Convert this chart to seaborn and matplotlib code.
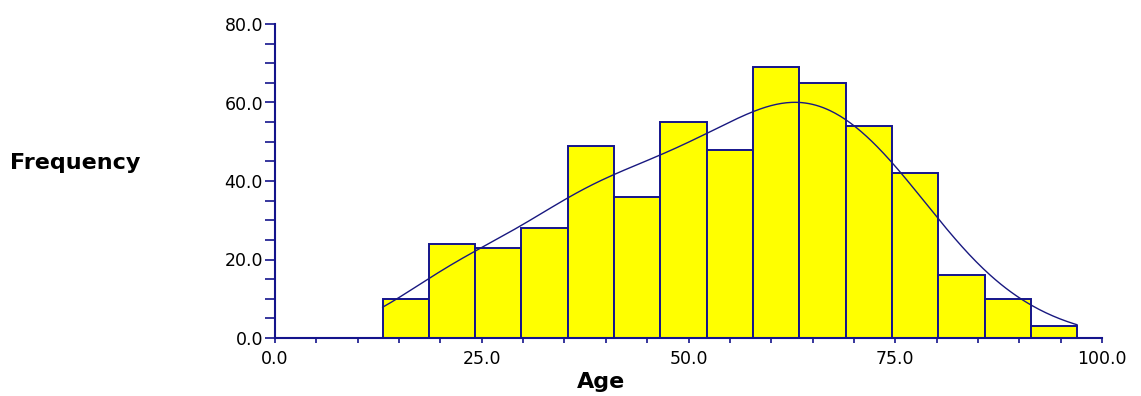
import matplotlib
matplotlib.use("Agg")
import matplotlib.pyplot as plt
from matplotlib.ticker import FixedLocator, MultipleLocator, FormatStrFormatter
import pandas as pd
import seaborn as sns

# Age histogram: 15 equal-width bins from 13 to 97
bin_edges = [13.0, 18.6, 24.2, 29.8, 35.4, 41.0, 46.6, 52.2, 57.8,
             63.4, 69.0, 74.6, 80.2, 85.8, 91.4, 97.0]
counts = [10, 24, 23, 28, 49, 36, 55, 48, 69, 65, 54, 42, 16, 10, 3]
x_ticks = [0, 25, 50, 75, 100]
y_ticks = [0, 20, 40, 60, 80]

NAVY = "#14148c"
CURVE = "#181880"
YELLOW = "#ffff00"

mids = [(a + b) / 2 for a, b in zip(bin_edges[:-1], bin_edges[1:])]
df = pd.DataFrame({"Age": mids, "count": counts})

sns.set_style("ticks")
plt.rcParams["font.family"] = ["DejaVu Sans"]

fig = plt.figure(figsize=(11.41, 3.96), dpi=100)
ax = fig.add_axes([275 / 1141, 58 / 396, 827 / 1141, 314 / 396])

sns.histplot(
    data=df, x="Age", weights="count", bins=bin_edges, stat="count",
    kde=True,
    kde_kws=dict(bw_adjust=0.6, cut=3, clip=(bin_edges[0], bin_edges[-1]), gridsize=400),
    line_kws=dict(linewidth=1.0),
    color=YELLOW, alpha=1, edgecolor=NAVY, linewidth=1.4, ax=ax,
)
# density trace in dark blue on top of the yellow bars
for ln in ax.lines:
    ln.set_color(CURVE)

ax.set_xlim(0, 100)
ax.set_ylim(0, 80)
ax.set_xlabel("")
ax.set_ylabel("")

ax.xaxis.set_major_locator(FixedLocator(x_ticks))
ax.xaxis.set_minor_locator(MultipleLocator(5))
ax.yaxis.set_major_locator(FixedLocator(y_ticks))
ax.yaxis.set_minor_locator(MultipleLocator(5))
ax.xaxis.set_major_formatter(FormatStrFormatter("%.1f"))
ax.yaxis.set_major_formatter(FormatStrFormatter("%.1f"))

ax.tick_params(axis="x", which="both", direction="out", length=3.6, width=1.2,
               color=NAVY, pad=5, labelsize=12.5, labelcolor="black")
ax.tick_params(axis="y", which="both", direction="out", length=7.2, width=1.2,
               color=NAVY, pad=1.5, labelsize=12.5, labelcolor="black")

for side in ("top", "right"):
    ax.spines[side].set_visible(False)
for side in ("left", "bottom"):
    ax.spines[side].set_color(NAVY)
    ax.spines[side].set_linewidth(1.5)

fig.text(10 / 1141, 1 - 163 / 396, "Frequency", ha="left", va="center",
         fontsize=16, fontweight="bold", color="black")
fig.text(601 / 1141, 1 - 388 / 396, "Age", ha="center", va="baseline",
         fontsize=16, fontweight="bold", color="black")

fig.savefig("out.png", dpi=100)
